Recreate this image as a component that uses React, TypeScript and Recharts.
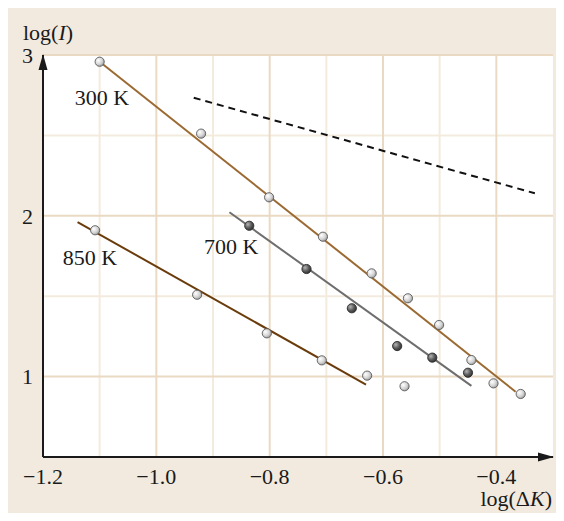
import { ComposedChart, Line, Scatter, XAxis, YAxis, ReferenceArea, ReferenceLine, ReferenceDot, Label } from 'recharts';

// measured points, log(ΔK) vs log(I)
const x300 = [-1.1, -0.921, -0.801, -0.706, -0.62, -0.556, -0.501, -0.444, -0.405, -0.357];
const y300 = [2.958, 2.511, 2.115, 1.87, 1.642, 1.487, 1.321, 1.103, 0.958, 0.892];
const x700 = [-0.836, -0.735, -0.655, -0.575, -0.513, -0.45];
const y700 = [1.938, 1.669, 1.425, 1.19, 1.118, 1.024];
const x850 = [-1.108, -0.928, -0.805, -0.708, -0.628, -0.562];
const y850 = [1.91, 1.509, 1.269, 1.101, 1.006, 0.94];

// fitted lines (end points)
const fit300X = [-1.1, -0.366];
const fit300Y = [2.958, 0.906];
const fit700X = [-0.871, -0.444];
const fit700Y = [2.022, 0.942];
const fit850X = [-1.139, -0.63];
const fit850Y = [1.961, 0.95];
const slopeX = [-0.934, -0.332];
const slopeY = [2.734, 2.14];

const xTicks = [-1.2, -1.0, -0.8, -0.6, -0.4];
const yTicks = [1, 2, 3];
const xGridMajor = [-1.0, -0.8, -0.6, -0.4];
const xGridMinor = [-1.1, -0.9, -0.7, -0.5];
const yGridMajor = [1, 2, 3];
const yGridMinor = [1.5, 2.5];

const labels = [
  { text: '300 K', x: -1.096, y: 2.733 },
  { text: '700 K', x: -0.868, y: 1.812 },
  { text: '850 K', x: -1.117, y: 1.738 },
];

const toPts = (xs: number[], ys: number[]) => xs.map((x, i) => ({ x, y: ys[i] }));

const FONT = '"Liberation Serif", "DejaVu Serif", serif';
const fmt = (v: number) => (v < 0 ? '\u2212' : '') + Math.abs(v).toFixed(1);

const LightBall = (p: any) => (
  <circle cx={p.cx} cy={p.cy} r={4.6} fill="url(#lightBall)" stroke="#5a5a5a" strokeWidth={0.9} />
);
const DarkBall = (p: any) => (
  <circle cx={p.cx} cy={p.cy} r={4.6} fill="url(#darkBall)" stroke="#2a2a2a" strokeWidth={0.9} />
);

export default function App() {
  return (
    <div style={{ width: 556, height: 505, background: '#f2eadf' }}>
      <ComposedChart width={556} height={505} margin={{ top: 47, right: 11, bottom: 0, left: 0 }}>
        <defs>
          <radialGradient id="lightBall" cx="35%" cy="35%" r="70%">
            <stop offset="0%" stopColor="#ffffff" />
            <stop offset="60%" stopColor="#d4d4d4" />
            <stop offset="100%" stopColor="#9a9a9a" />
          </radialGradient>
          <radialGradient id="darkBall" cx="35%" cy="35%" r="70%">
            <stop offset="0%" stopColor="#b5b5b5" />
            <stop offset="55%" stopColor="#5c5c5c" />
            <stop offset="100%" stopColor="#303030" />
          </radialGradient>
        </defs>
        <XAxis
          type="number"
          dataKey="x"
          domain={[-1.2, -0.3]}
          ticks={xTicks}
          tickFormatter={fmt}
          axisLine={false}
          tickLine={false}
          tickSize={9}
          tickMargin={2}
          height={56}
          tick={{ fill: '#1a1a1a', fontSize: 22, fontFamily: FONT }}
          allowDataOverflow
        >
          <Label
            content={({ viewBox }: any) => (
              <text x={viewBox.x + viewBox.width - 1} y={viewBox.y + 49} textAnchor="end" fill="#1a1a1a" fontSize={22} fontFamily={FONT}>
                log(Δ<tspan fontStyle="italic">K</tspan>)
              </text>
            )}
          />
        </XAxis>
        <YAxis
          type="number"
          dataKey="y"
          domain={[0.5, 3]}
          ticks={yTicks}
          axisLine={false}
          tickLine={false}
          tickSize={8}
          tickMargin={2}
          width={35}
          tick={{ fill: '#1a1a1a', fontSize: 22, fontFamily: FONT }}
          allowDataOverflow
        >
          <Label
            content={({ viewBox }: any) => (
              <text x={viewBox.x + 15} y={viewBox.y - 15} textAnchor="start" fill="#1a1a1a" fontSize={22} fontFamily={FONT}>
                log(<tspan fontStyle="italic">I</tspan>)
              </text>
            )}
          />
        </YAxis>
        <ReferenceArea x1={-1.2} x2={-0.3} y1={0.5} y2={3} fill="#ffffff" fillOpacity={1} stroke="none" />
        {xGridMinor.map(v => (
          <ReferenceLine key={'xm' + v} x={v} stroke="#f4ebdf" strokeWidth={2} />
        ))}
        {yGridMinor.map(v => (
          <ReferenceLine key={'ym' + v} y={v} stroke="#f4ebdf" strokeWidth={2} />
        ))}
        {xGridMajor.map(v => (
          <ReferenceLine key={'xM' + v} x={v} stroke="#eadac4" strokeWidth={2} />
        ))}
        {yGridMajor.map(v => (
          <ReferenceLine key={'yM' + v} y={v} stroke="#eadac4" strokeWidth={2} />
        ))}
        <Line data={toPts(slopeX, slopeY)} dataKey="y" stroke="#111" strokeWidth={2} strokeDasharray="7 5" dot={false} isAnimationActive={false} />
        <Line data={toPts(fit300X, fit300Y)} dataKey="y" stroke="#9b6a32" strokeWidth={2} dot={false} isAnimationActive={false} />
        <Line data={toPts(fit700X, fit700Y)} dataKey="y" stroke="#6e6e6e" strokeWidth={2} dot={false} isAnimationActive={false} />
        <Line data={toPts(fit850X, fit850Y)} dataKey="y" stroke="#6a3c0c" strokeWidth={2} dot={false} isAnimationActive={false} />
        <Scatter data={toPts(x300, y300)} shape={LightBall} isAnimationActive={false} />
        <Scatter data={toPts(x850, y850)} shape={LightBall} isAnimationActive={false} />
        <Scatter data={toPts(x700, y700)} shape={DarkBall} isAnimationActive={false} />
        {labels.map(l => (
          <ReferenceDot
            key={l.text}
            x={l.x}
            y={l.y}
            shape={(p: any) => (
              <text x={p.cx} y={p.cy} textAnchor="middle" dominantBaseline="central" fill="#1a1a1a" fontSize={22} fontFamily={FONT}>
                {l.text}
              </text>
            )}
          />
        ))}
        <ReferenceLine x={-1.2} stroke="#1a1a1a" strokeWidth={2} />
        <ReferenceLine y={0.5} stroke="#1a1a1a" strokeWidth={2} />
        <ReferenceDot
          x={-1.2}
          y={3}
          shape={(p: any) => (
            <polygon points={`${p.cx},${p.cy - 1} ${p.cx - 4.5},${p.cy + 15} ${p.cx + 4.5},${p.cy + 15}`} fill="#1a1a1a" />
          )}
        />
        <ReferenceDot
          x={-0.3}
          y={0.5}
          shape={(p: any) => (
            <polygon points={`${p.cx + 1},${p.cy} ${p.cx - 15},${p.cy - 4.5} ${p.cx - 15},${p.cy + 4.5}`} fill="#1a1a1a" />
          )}
        />
      </ComposedChart>
    </div>
  );
}
